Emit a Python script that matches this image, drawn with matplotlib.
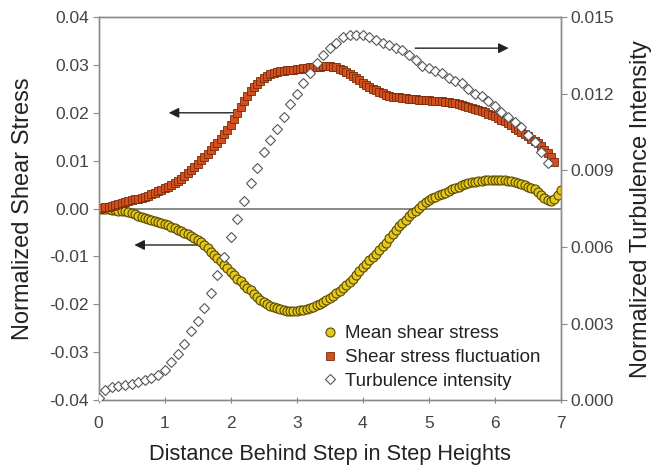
import numpy as np
import matplotlib
matplotlib.use("Agg")
import matplotlib.pyplot as plt

plt.rcParams['font.family'] = ['Liberation Sans', 'DejaVu Sans']

# measurement stations, every 0.05 step heights (0 .. 7)
x = np.round(np.arange(141) * 0.05, 2)

mean_shear = [0.0000, -0.0000, -0.0001, -0.0001, -0.0002, -0.0003, -0.0004, -0.0005, -0.0006, -0.0008,
              -0.0010, -0.0012, -0.0015, -0.0017, -0.0020, -0.0022, -0.0024, -0.0026, -0.0028, -0.0030,
              -0.0032, -0.0035, -0.0038, -0.0041, -0.0044, -0.0047, -0.0051, -0.0054, -0.0058, -0.0061,
              -0.0065, -0.0070, -0.0076, -0.0083, -0.0090, -0.0097, -0.0104, -0.0110, -0.0117, -0.0124,
              -0.0132, -0.0139, -0.0146, -0.0152, -0.0159, -0.0165, -0.0171, -0.0178, -0.0184, -0.0190,
              -0.0195, -0.0199, -0.0203, -0.0206, -0.0208, -0.0210, -0.0212, -0.0213, -0.0214, -0.0214,
              -0.0213, -0.0212, -0.0211, -0.0209, -0.0207, -0.0205, -0.0202, -0.0199, -0.0195, -0.0191,
              -0.0187, -0.0182, -0.0177, -0.0172, -0.0166, -0.0160, -0.0154, -0.0147, -0.0139, -0.0131,
              -0.0123, -0.0116, -0.0108, -0.0101, -0.0094, -0.0087, -0.0079, -0.0071, -0.0062, -0.0054,
              -0.0045, -0.0037, -0.0030, -0.0023, -0.0016, -0.0010, -0.0004, 0.0002, 0.0008, 0.0013,
              0.0018, 0.0022, 0.0025, 0.0028, 0.0030, 0.0033, 0.0036, 0.0040, 0.0043, 0.0046,
              0.0049, 0.0051, 0.0053, 0.0055, 0.0056, 0.0057, 0.0058, 0.0059, 0.0059, 0.0060,
              0.0060, 0.0060, 0.0060, 0.0059, 0.0058, 0.0057, 0.0055, 0.0053, 0.0051, 0.0049,
              0.0046, 0.0043, 0.0040, 0.0035, 0.0029, 0.0023, 0.0017, 0.0015, 0.0020, 0.0028,
              0.0039]

# fluctuation stops at 6.9
shear_fluct = [0.0000, 0.0001, 0.0003, 0.0004, 0.0006, 0.0007, 0.0009, 0.0011, 0.0013, 0.0015,
               0.0017, 0.0019, 0.0021, 0.0023, 0.0025, 0.0027, 0.0030, 0.0033, 0.0036, 0.0039,
               0.0042, 0.0045, 0.0049, 0.0053, 0.0057, 0.0062, 0.0068, 0.0074, 0.0081, 0.0087,
               0.0094, 0.0101, 0.0108, 0.0115, 0.0123, 0.0130, 0.0138, 0.0146, 0.0155, 0.0165,
               0.0175, 0.0188, 0.0200, 0.0213, 0.0225, 0.0236, 0.0245, 0.0254, 0.0261, 0.0267,
               0.0272, 0.0276, 0.0280, 0.0283, 0.0285, 0.0287, 0.0288, 0.0289, 0.0290, 0.0290,
               0.0291, 0.0292, 0.0293, 0.0294, 0.0295, 0.0295, 0.0296, 0.0296, 0.0297, 0.0297,
               0.0297, 0.0296, 0.0295, 0.0292, 0.0289, 0.0285, 0.0281, 0.0277, 0.0272, 0.0268,
               0.0263, 0.0258, 0.0254, 0.0250, 0.0247, 0.0244, 0.0241, 0.0238, 0.0236, 0.0234,
               0.0233, 0.0232, 0.0231, 0.0230, 0.0229, 0.0228, 0.0228, 0.0227, 0.0227, 0.0226,
               0.0226, 0.0225, 0.0225, 0.0224, 0.0224, 0.0223, 0.0222, 0.0221, 0.0220, 0.0218,
               0.0217, 0.0215, 0.0213, 0.0211, 0.0208, 0.0206, 0.0203, 0.0201, 0.0198, 0.0195,
               0.0193, 0.0189, 0.0186, 0.0182, 0.0178, 0.0174, 0.0169, 0.0165, 0.0160, 0.0156,
               0.0151, 0.0146, 0.0141, 0.0136, 0.0130, 0.0123, 0.0116, 0.0107, 0.0098]

# turbulence intensity sampled every 0.1, stops at 6.8
turb = [0.0001, 0.0004, 0.0005, 0.00055, 0.0006, 0.00064, 0.0007, 0.00078, 0.00088, 0.0010,
        0.0012, 0.0015, 0.0018, 0.0022, 0.0027, 0.0031, 0.0036, 0.0042, 0.0049, 0.0056,
        0.0064, 0.0071, 0.0078, 0.0085, 0.0091, 0.0097, 0.0102, 0.0106, 0.0111, 0.0116,
        0.0120, 0.0124, 0.0128, 0.0132, 0.0135, 0.0138, 0.0140, 0.0142, 0.0143, 0.0143,
        0.0143, 0.0142, 0.0141, 0.0140, 0.0139, 0.0138, 0.0137, 0.0135, 0.0133, 0.0131,
        0.0130, 0.0129, 0.0128, 0.0126, 0.0125, 0.0124, 0.0122, 0.0120, 0.0119, 0.0117,
        0.0115, 0.0113, 0.0111, 0.0109, 0.0107, 0.0104, 0.0101, 0.0097, 0.0093]

left_ticks = [-0.04, -0.03, -0.02, -0.01, 0.00, 0.01, 0.02, 0.03, 0.04]
right_ticks = [0.000, 0.003, 0.006, 0.009, 0.012, 0.015]
x_ticks = [0, 1, 2, 3, 4, 5, 6, 7]

fig = plt.figure(figsize=(6.53, 4.73), dpi=100)
ax = fig.add_axes([0.151, 0.154, 0.708, 0.810])
ax2 = ax.twinx()

spine_c = '#8a8a8a'
tick_c = '#444444'

ax.axhline(0, color='#777777', lw=1.2, zorder=1)

l1, = ax.plot(x, mean_shear, 'o', ms=6.5, mfc='#e4c81c', mec='#5a4a00', mew=0.8,
              label='Mean shear stress', zorder=3)
l2, = ax.plot(x[:len(shear_fluct)], shear_fluct, 's', ms=5.5, mfc='#d2501e', mec='#7a2a08',
              mew=0.6, label='Shear stress fluctuation', zorder=3)
x_turb = x[::2]
l3, = ax2.plot(x_turb[:len(turb)], turb, 'D', ms=4.8, mfc='white', mec='#555555', mew=0.8,
               label='Turbulence intensity', zorder=4)

ax.set_xlim(0, 7)
ax.set_ylim(-0.04, 0.04)
ax2.set_ylim(0, 0.015)
ax.set_xticks(x_ticks)
ax.set_yticks(left_ticks)
ax.set_yticklabels(['%.2f' % t for t in left_ticks])
ax2.set_yticks(right_ticks)
ax2.set_yticklabels(['%.3f' % t for t in right_ticks])

for a in (ax, ax2):
    for s in a.spines.values():
        s.set_color(spine_c)
        s.set_linewidth(1.0)
ax.tick_params(axis='y', direction='out', length=4, color=spine_c, labelsize=12.5,
               labelcolor=tick_c, pad=3)
ax.tick_params(axis='x', direction='inout', length=5, color=spine_c, labelsize=12.5,
               labelcolor=tick_c, pad=9)
ax2.tick_params(axis='y', direction='out', length=4, color=spine_c, labelsize=12.5,
                labelcolor=tick_c, pad=3)

ax.set_xlabel('Distance Behind Step in Step Heights', fontsize=15.7, color='#222222', labelpad=9)
ax.set_ylabel('Normalized Shear Stress', fontsize=17, color='#222222', labelpad=11)
ax2.set_ylabel('Normalized Turbulence Intensity', fontsize=17, color='#222222', labelpad=11)

arrow = dict(arrowstyle='-|>', color='#222222', lw=1.0, mutation_scale=15)
ax.annotate('', xy=(1.02, 0.020), xytext=(2.08, 0.020), arrowprops=arrow, zorder=2)
ax.annotate('', xy=(0.50, -0.0076), xytext=(1.55, -0.0076), arrowprops=arrow, zorder=2)
ax.annotate('', xy=(6.25, 0.0335), xytext=(4.75, 0.0335), arrowprops=arrow, zorder=2)

leg = ax2.legend(handles=[l1, l2, l3], loc='lower left', bbox_to_anchor=(0.453, -0.012),
                 frameon=False, fontsize=13.5, handlelength=0.7, handletextpad=0.45,
                 labelspacing=0.35, borderpad=0.3)
for t in leg.get_texts():
    t.set_color('#222222')

fig.savefig('out.png', dpi=100)
